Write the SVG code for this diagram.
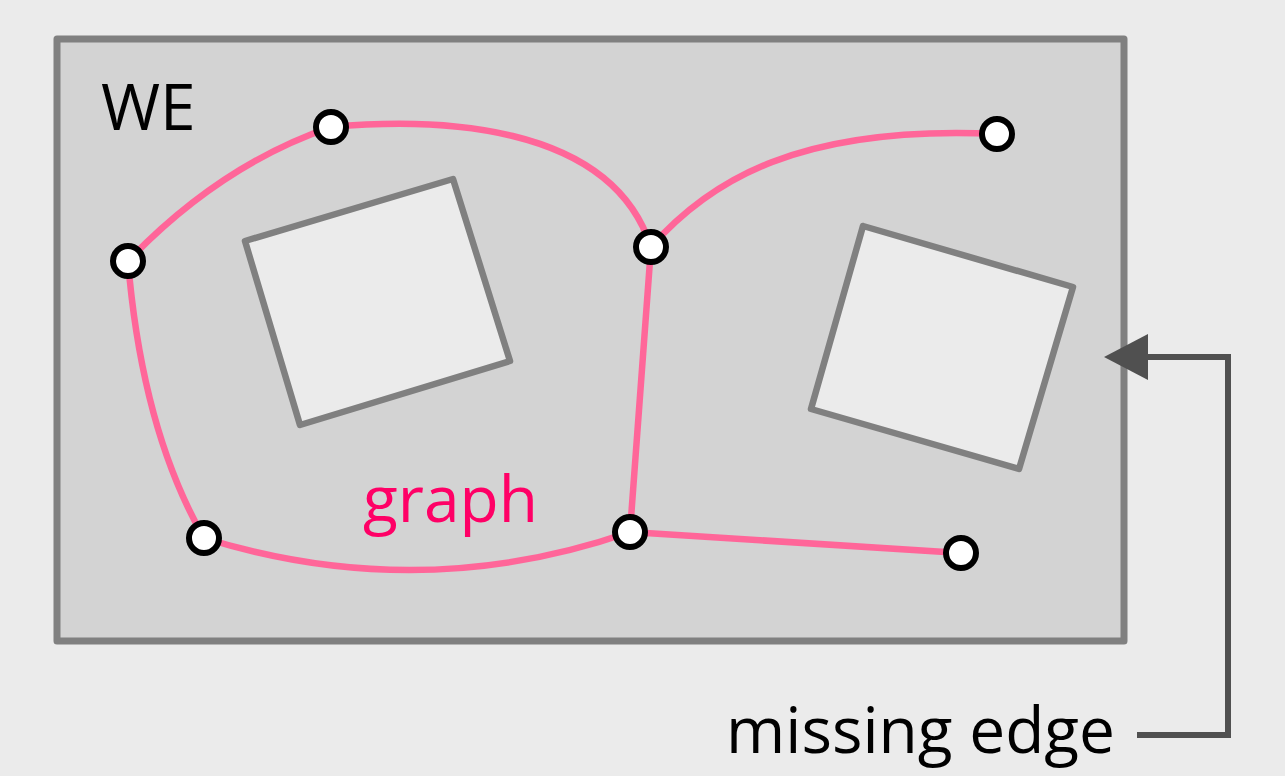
<svg xmlns="http://www.w3.org/2000/svg" width="1285" height="776" viewBox="0 0 1285 776">
<style>
.edge{fill:none;stroke:#ff6699;stroke-width:6.5;stroke-linecap:round}
.obs{fill:#ebebeb;stroke:#808080;stroke-width:6.5;stroke-linejoin:round}
.node{fill:#fff;stroke:#000;stroke-width:6}
.t{font-family:"Open Sans","Noto Sans",sans-serif;font-size:64px}
</style>
<rect width="1285" height="776" fill="#ebebeb"/>
<g id="we">
<rect x="57" y="39" width="1067" height="602" fill="#d3d3d3" stroke="#808080" stroke-width="7" stroke-linejoin="round"/>
<text class="t" x="101" y="130" fill="#000">WE</text>
</g>
<g id="obstacle1"><polygon class="obs" points="245,241 453,179 510,361 300,425"/></g>
<g id="obstacle2"><polygon class="obs" points="863,226 1073,287 1019,469 811,409"/></g>
<g id="connectors">
<path class="edge" d="M128,261 Q220,165 331,127"/>
<path class="edge" d="M331,127 C430,118 610,120 651,247"/>
<path class="edge" d="M651,247 C710,180 800,125 997,134"/>
<path class="edge" d="M651,247 L630,532"/>
<path class="edge" d="M128,261 Q142,430 204,538"/>
<path class="edge" d="M204,538 Q420,605 630,532"/>
<path class="edge" d="M630,532 L961,553"/>
<path d="M1137,735 H1228 V357 H1145" fill="none" stroke="#505050" stroke-width="6"/>
<polygon points="1104,357 1148,334 1148,380" fill="#505050"/>
</g>
<g id="n1"><circle class="node" cx="331" cy="127" r="15"/></g>
<g id="n2"><circle class="node" cx="128" cy="261" r="15"/></g>
<g id="n3"><circle class="node" cx="651" cy="247" r="15"/></g>
<g id="n4"><circle class="node" cx="997" cy="134" r="15"/></g>
<g id="n5"><circle class="node" cx="204" cy="538" r="15"/></g>
<g id="n6"><circle class="node" cx="630" cy="532" r="15"/></g>
<g id="n7"><circle class="node" cx="961" cy="553" r="15"/></g>
<g id="labels">
<text class="t" x="363" y="522" fill="#ff0066">graph</text>
<text class="t" x="726" y="753" fill="#000">missing edge</text>
</g>
</svg>
